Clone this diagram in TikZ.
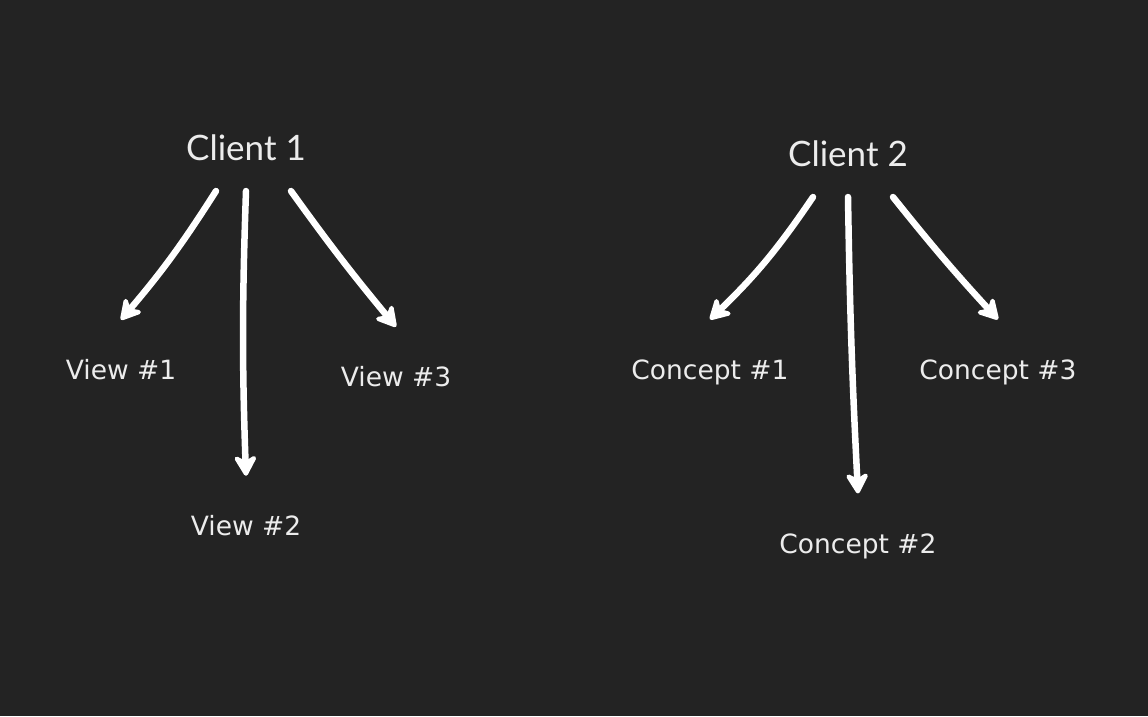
\documentclass[tikz,border=0pt]{standalone}
\usepackage{fontspec}
\usepackage{xcolor}
\definecolor{bgcolor}{HTML}{232323}
\definecolor{drawcolor}{HTML}{FFFFFF}
\definecolor{textcolor}{HTML}{ECECEC}
\newfontfamily\titlefont{Lato}
\newfontfamily\labelfont{DejaVu Sans}
\usetikzlibrary{arrows.meta}

\begin{document}
\begin{tikzpicture}[
  x=1pt, y=-1pt,
  line width=6.5pt,
  drawcolor,
  title/.style={anchor=center, inner sep=0pt, outer ysep=30pt, text=textcolor, font=\titlefont\fontsize{35}{42}\selectfont},
  label/.style={anchor=center, inner sep=0pt, outer ysep=40pt, text=textcolor, font=\labelfont\fontsize{26.5}{32}\selectfont},
  arr/.style={line cap=round, -{Stealth[length=25pt, width=28pt, inset=8pt, round]}},
]

  \fill[bgcolor] (0, 0) rectangle (1148, 716);

  \node[title] (c1) at (246, 148) {Client 1};
  \node[label] (v1) at (121, 370) {View \#1};
  \node[label] (v2) at (246, 526) {View \#2};
  \node[label] (v3) at (396, 377) {View \#3};

  \node[title] (c2) at (848, 154) {Client 2};
  \node[label] (k1) at (710, 372) {Concept \#1};
  \node[label] (k2) at (858, 546) {Concept \#2};
  \node[label] (k3) at (998, 372) {Concept \#3};

  \draw[arr] ([xshift=-30pt]c1.south) to[bend left=4] (v1.north);
  \draw[arr] (c1.south) to[bend right=2] (v2.north);
  \draw[arr] ([xshift=45pt]c1.south) to[bend right=2] (v3.north);

  \draw[arr] ([xshift=-35pt]c2.south) to[bend left=6] (k1.north);
  \draw[arr] (c2.south) to[bend right=1] (k2.north);
  \draw[arr] ([xshift=45pt]c2.south) to[bend right=2] (k3.north);
\end{tikzpicture}
\end{document}
